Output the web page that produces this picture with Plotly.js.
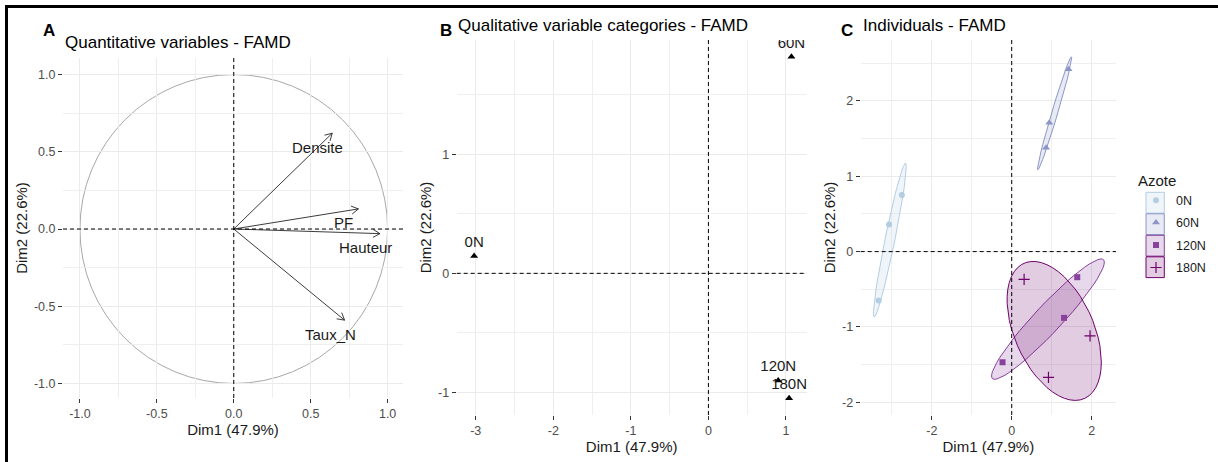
<!DOCTYPE html>
<html>
<head>
<meta charset="utf-8">
<script src="https://cdn.plot.ly/plotly-3.0.1.min.js"></script>
<style>
html, body { margin: 0; padding: 0; background: #ffffff; }
#chart { width: 1218px; height: 462px; }
</style>
</head>
<body>
<div id="chart"></div>
<script>
// ---------------- Data ----------------
// Panel A: quantitative variables (correlation circle)
const quantVars = ['Densite', 'PF', 'Hauteur', 'Taux_N'];
const quantDim1 = [0.64, 0.81, 0.95, 0.72];
const quantDim2 = [0.62, 0.13, -0.03, -0.59];

// Panel B: qualitative variable categories
const catLabels = ['0N', '60N', '120N', '180N'];
const catDim1 = [-3.02, 1.07, 0.90, 1.04];
const catDim2 = [0.145, 1.82, -0.90, -1.05];

// Panel C: individuals by Azote group
const groupNames = ['0N', '60N', '120N', '180N'];
const indDim1_0N = [-3.33, -3.07, -2.75];
const indDim2_0N = [-0.65, 0.36, 0.75];
const indDim1_60N = [0.86, 0.94, 1.42];
const indDim2_60N = [1.38, 1.71, 2.42];
const indDim1_120N = [1.64, 1.31, -0.23];
const indDim2_120N = [-0.34, -0.88, -1.47];
const indDim1_180N = [0.31, 1.96, 0.92];
const indDim2_180N = [-0.37, -1.12, -1.67];

// Tick labels
const tickValsA = [-1, -0.5, 0, 0.5, 1];
const tickTextA = ['-1.0', '-0.5', '0.0', '0.5', '1.0'];
const tickValsBx = [-3, -2, -1, 0, 1];
const tickTextBx = ['-3', '-2', '-1', '0', '1'];
const tickValsBy = [-1, 0, 1];
const tickTextBy = ['-1', '0', '1'];
const tickValsCx = [-2, 0, 2];
const tickTextCx = ['-2', '0', '2'];
const tickValsCy = [-2, -1, 0, 1, 2];
const tickTextCy = ['-2', '-1', '0', '1', '2'];

const axisTitleX = 'Dim1 (47.9%)';
const axisTitleY = 'Dim2 (22.6%)';

// ---------------- Styles ----------------
const W = 1218, H = 462;
const FONT = 'Liberation Sans, Arial, sans-serif';
const px = v => v / W;
const py = v => 1 - v / H;
const groupColors = ['#b3cde3', '#8c96c6', '#88419d', '#6e016b'];
const groupFills = ['rgba(179,205,227,0.2)', 'rgba(140,150,198,0.2)', 'rgba(136,65,157,0.2)', 'rgba(110,1,107,0.2)'];
const groupSymbols = ['circle', 'triangle-up', 'square', 'cross-thin'];
const groupSizes = [6, 7, 6, 8];
const ellipseLevel = 0.5;

const indX = [indDim1_0N, indDim1_60N, indDim1_120N, indDim1_180N];
const indY = [indDim2_0N, indDim2_60N, indDim2_120N, indDim2_180N];

function mean(a) { return a.reduce((s, v) => s + v, 0) / a.length; }

// normal data ellipse (as ggplot2::stat_ellipse type = "norm")
function dataEllipse(xs, ys, level, segments) {
  const n = xs.length;
  const mx = mean(xs), my = mean(ys);
  let sxx = 0, syy = 0, sxy = 0;
  for (let i = 0; i < n; i++) {
    const dx = xs[i] - mx, dy = ys[i] - my;
    sxx += dx * dx; syy += dy * dy; sxy += dx * dy;
  }
  sxx /= (n - 1); syy /= (n - 1); sxy /= (n - 1);
  const r11 = Math.sqrt(sxx), r12 = sxy / r11;
  const r22 = Math.sqrt(Math.max(syy - r12 * r12, 0));
  // qf(level, 2, 2) = level / (1 - level)
  const radius = Math.sqrt(2 * level / (1 - level));
  const ex = [], ey = [];
  for (let k = 0; k <= segments; k++) {
    const t = 2 * Math.PI * k / segments;
    const c = Math.cos(t), s = Math.sin(t);
    ex.push(mx + radius * c * r11);
    ey.push(my + radius * (c * r12 + s * r22));
  }
  return { x: ex, y: ey };
}

// arrows for panel A (shaft + open head), built from the variable coordinates
function arrowPaths(xs, ys, headLen, headAngle) {
  const ax = [], ay = [];
  for (let i = 0; i < xs.length; i++) {
    const x = xs[i], y = ys[i];
    const ang = Math.atan2(y, x);
    ax.push(0, x, null);
    ay.push(0, y, null);
    const a1 = ang + Math.PI - headAngle, a2 = ang + Math.PI + headAngle;
    ax.push(x + headLen * Math.cos(a1), x, x + headLen * Math.cos(a2), null);
    ay.push(y + headLen * Math.sin(a1), y, y + headLen * Math.sin(a2), null);
  }
  return { x: ax, y: ay };
}

const traces = [];

// Panel A
const arr = arrowPaths(quantDim1, quantDim2, 0.052, Math.PI / 6);
traces.push({
  type: 'scatter', mode: 'lines', x: arr.x, y: arr.y, xaxis: 'x', yaxis: 'y',
  line: { color: '#262626', width: 0.9 }, showlegend: false, hoverinfo: 'skip'
});

// Panel B
traces.push({
  type: 'scatter', mode: 'markers+text', x: catDim1, y: catDim2, text: catLabels,
  xaxis: 'x2', yaxis: 'y2', textposition: 'top center', cliponaxis: true,
  textfont: { family: FONT, size: 15, color: '#1a1a1a' },
  marker: { symbol: 'triangle-up', size: 7, color: '#000000' },
  showlegend: false, hoverinfo: 'skip'
});

// Panel C ellipses
for (let g = 0; g < groupNames.length; g++) {
  const e = dataEllipse(indX[g], indY[g], ellipseLevel, 51);
  traces.push({
    type: 'scatter', mode: 'lines', x: e.x, y: e.y, xaxis: 'x3', yaxis: 'y3',
    fill: 'toself', fillcolor: groupFills[g],
    line: { color: groupColors[g], width: 1 }, showlegend: false, hoverinfo: 'skip'
  });
}
// Panel C points
for (let g = 0; g < groupNames.length; g++) {
  traces.push({
    type: 'scatter', mode: 'markers', x: indX[g], y: indY[g], xaxis: 'x3', yaxis: 'y3',
    name: groupNames[g], legendgroup: groupNames[g],
    marker: { symbol: groupSymbols[g], size: groupSizes[g], color: groupColors[g],
              line: { color: groupColors[g], width: g === 3 ? 1.2 : 0 } },
    showlegend: true, hoverinfo: 'skip'
  });
}

function axisBase(extra) {
  return Object.assign({
    showgrid: true, gridcolor: '#ebebeb', gridwidth: 1,
    zeroline: false, showline: false,
    ticks: 'outside', ticklen: 4, tickwidth: 1, tickcolor: '#333333',
    tickfont: { family: FONT, size: 12.5, color: '#4d4d4d' },
    tickmode: 'array', fixedrange: true
  }, extra);
}
function titleObj(text, standoff) {
  return { text: text, font: { family: FONT, size: 15, color: '#1a1a1a' }, standoff: standoff };
}

const layout = {
  width: W, height: H,
  margin: { l: 0, r: 0, t: 0, b: 0, pad: 0 },
  paper_bgcolor: '#ffffff', plot_bgcolor: '#ffffff',
  font: { family: FONT },
  showlegend: true,
  legend: {
    x: px(1136), xanchor: 'left', y: py(166), yanchor: 'top',
    bgcolor: 'rgba(0,0,0,0)', borderwidth: 0,
    font: { family: FONT, size: 12.5, color: '#1a1a1a' },
    title: { text: 'Azote', font: { family: FONT, size: 15, color: '#1a1a1a' } },
    tracegroupgap: 3.2, itemsizing: 'trace', traceorder: 'grouped'
  },
  // Panel A
  xaxis: axisBase({
    domain: [px(63), px(403)], anchor: 'y', range: [-1.11, 1.10],
    tickvals: tickValsA, ticktext: tickTextA,
    minor: { dtick: 0.25, tick0: 0, showgrid: true, gridcolor: '#ebebeb', gridwidth: 0.8 },
    title: titleObj(axisTitleX, 4)
  }),
  yaxis: axisBase({
    domain: [py(398), py(58)], anchor: 'x', range: [-1.094, 1.107],
    tickvals: tickValsA, ticktext: tickTextA,
    minor: { dtick: 0.25, tick0: 0, showgrid: true, gridcolor: '#ebebeb', gridwidth: 0.8 },
    title: titleObj(axisTitleY, 2)
  }),
  // Panel B
  xaxis2: axisBase({
    domain: [px(456.7), px(806.7)], anchor: 'y2', range: [-3.245, 1.267],
    tickvals: tickValsBx, ticktext: tickTextBx,
    minor: { dtick: 0.5, tick0: 0, showgrid: true, gridcolor: '#ebebeb', gridwidth: 0.8 },
    title: titleObj(axisTitleX, 4)
  }),
  yaxis2: axisBase({
    domain: [py(415), py(40)], anchor: 'x2', range: [-1.19, 1.96],
    tickvals: tickValsBy, ticktext: tickTextBy,
    minor: { dtick: 0.5, tick0: 0, showgrid: true, gridcolor: '#ebebeb', gridwidth: 0.8 },
    title: titleObj(axisTitleY, 2)
  }),
  // Panel C
  xaxis3: axisBase({
    domain: [px(860.7), px(1116)], anchor: 'y3', range: [-3.78, 2.61],
    tickvals: tickValsCx, ticktext: tickTextCx,
    minor: { dtick: 1, tick0: 0, showgrid: true, gridcolor: '#ebebeb', gridwidth: 0.8 },
    title: titleObj(axisTitleX, 4)
  }),
  yaxis3: axisBase({
    domain: [py(415), py(40)], anchor: 'x3', range: [-2.17, 2.81],
    tickvals: tickValsCy, ticktext: tickTextCy,
    minor: { dtick: 0.5, tick0: 0, showgrid: true, gridcolor: '#ebebeb', gridwidth: 0.8 },
    title: titleObj(axisTitleY, 2)
  }),
  shapes: [],
  annotations: []
};

// reference lines and unit circle
layout.shapes.push({ type: 'circle', xref: 'x', yref: 'y', x0: -1, x1: 1, y0: -1, y1: 1,
  line: { color: '#a8a8a8', width: 1 }, layer: 'below' });
[['x', 'y'], ['x2', 'y2'], ['x3', 'y3']].forEach(([xa, ya]) => {
  layout.shapes.push({ type: 'line', xref: xa, yref: ya + ' domain', x0: 0, x1: 0, y0: 0, y1: 1,
    line: { color: '#000000', width: 1, dash: '4px,3px' }, layer: 'above' });
  layout.shapes.push({ type: 'line', xref: xa + ' domain', yref: ya, x0: 0, x1: 1, y0: 0, y1: 0,
    line: { color: '#000000', width: 1, dash: '4px,3px' }, layer: 'above' });
});

// legend key boxes
const keyTops = [192.3, 213.8, 235.3, 256.8];
for (let g = 0; g < groupNames.length; g++) {
  layout.shapes.push({ type: 'rect', xref: 'paper', yref: 'paper',
    x0: px(1146), x1: px(1164.3), y0: py(keyTops[g] + 20.8), y1: py(keyTops[g]),
    fillcolor: groupFills[g], line: { color: groupColors[g], width: 1 }, layer: 'above' });
}

// figure frame (top and left)
layout.shapes.push({ type: 'line', xref: 'paper', yref: 'paper', x0: px(5), x1: 1, y0: py(6.5), y1: py(6.5),
  line: { color: '#000000', width: 3 } });
layout.shapes.push({ type: 'line', xref: 'paper', yref: 'paper', x0: px(6.5), x1: px(6.5), y0: 0, y1: py(5),
  line: { color: '#000000', width: 3 } });

// arrow labels panel A
for (let i = 0; i < quantVars.length; i++) {
  layout.annotations.push({ xref: 'x', yref: 'y', x: quantDim1[i], y: quantDim2[i], text: quantVars[i],
    showarrow: false, xanchor: 'center', yanchor: 'middle', xshift: -14.5, yshift: -14,
    font: { family: FONT, size: 15, color: '#1a1a1a' } });
}

// panel letters and titles
function paperText(text, x, y, size, bold, anchor) {
  layout.annotations.push({ xref: 'paper', yref: 'paper', x: px(x), y: py(y),
    text: bold ? '<b>' + text + '</b>' : text, showarrow: false,
    xanchor: anchor || 'left', yanchor: 'middle',
    font: { family: FONT, size: size, color: '#000000' } });
}
paperText('A', 49, 30.5, 17, true, 'center');
paperText('B', 446, 30, 17, true, 'center');
paperText('C', 847, 30, 17, true, 'center');
paperText('Quantitative variables - FAMD', 63, 42, 17, false);
paperText('Qualitative variable categories - FAMD', 456, 25, 17, false);
paperText('Individuals - FAMD', 861, 25, 17, false);

Plotly.newPlot('chart', traces, layout, { staticPlot: true, displayModeBar: false });
</script>
</body>
</html>
